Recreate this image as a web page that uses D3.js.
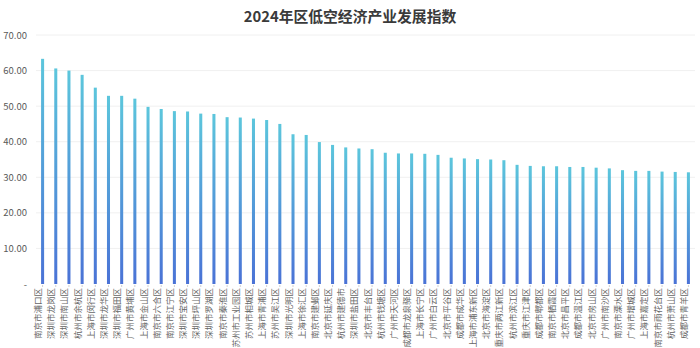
<!DOCTYPE html>
<html><head><meta charset="utf-8">
<script src="https://cdn.jsdelivr.net/npm/d3@7"></script>
<style>body{margin:0;background:#fff;}svg{display:block;font-family:"Noto Sans CJK SC","Noto Sans",sans-serif;}</style>
</head><body>
<svg id="c" width="700" height="348"></svg>
<script>
const categories = ["南京市浦口区","深圳市龙岗区","深圳市南山区","杭州市余杭区","上海市闵行区","深圳市龙华区","深圳市福田区","广州市黄埔区","上海市金山区","南京市六合区","南京市江宁区","深圳市宝安区","深圳市坪山区","深圳市罗湖区","南京市秦淮区","苏州市工业园区","苏州市相城区","上海市青浦区","苏州市吴江区","深圳市光明区","上海市徐汇区","南京市建邺区","北京市延庆区","杭州市建德市","深圳市盐田区","北京市丰台区","杭州市钱塘区","广州市天河区","成都市龙泉驿区","上海市长宁区","广州市白云区","北京市平谷区","成都市成华区","上海市浦东新区","北京市海淀区","重庆市两江新区","杭州市滨江区","重庆市江津区","成都市郫都区","南京市栖霞区","北京市昌平区","成都市温江区","北京市房山区","广州市南沙区","南京市溧水区","广州市增城区","上海市嘉定区","南京市雨花台区","杭州市萧山区","成都市青羊区"];
const values = [63.3,60.6,60.0,58.8,55.2,52.9,52.9,52.1,49.8,49.2,48.6,48.5,47.9,47.8,46.9,46.8,46.5,46.1,45.0,42.1,41.9,39.9,39.1,38.4,38.1,37.9,36.9,36.7,36.7,36.6,36.3,35.5,35.3,35.1,35.0,34.8,33.5,33.2,33.1,33.1,32.9,32.9,32.7,32.5,32.0,31.8,31.8,31.6,31.5,31.4];
const yTicks = [0,10,20,30,40,50,60,70];
const title = "2024年区低空经济产业发展指数";

const svg = d3.select("#c");
const x = d3.scaleBand().domain(categories).range([36, 695]).paddingInner(0.77).paddingOuter(0.385);
const y = d3.scaleLinear().domain([0,70]).range([284, 35]);

const defs = svg.append("defs");
const g = defs.append("linearGradient").attr("id","gr").attr("x1",0).attr("y1",0).attr("x2",0).attr("y2",1);
g.append("stop").attr("offset","0%").attr("stop-color","#5cc6dc");
g.append("stop").attr("offset","100%").attr("stop-color","#4a72d6");

svg.append("text").attr("x",350).attr("y",22).attr("text-anchor","middle")
  .attr("font-size",14.8).attr("font-weight","bold").attr("fill","#3a3a3a").text(title);

// grid
svg.append("g").selectAll("line").data(yTicks.slice(1)).join("line")
  .attr("x1",36).attr("x2",695).attr("y1",d=>y(d)).attr("y2",d=>y(d))
  .attr("stroke","#f0f0f0").attr("stroke-width",1);

// y labels
svg.append("g").selectAll("text").data(yTicks).join("text")
  .attr("x",27).attr("y",d=>y(d)+3.5).attr("text-anchor","end")
  .attr("font-size",9.5).attr("fill","#595959")
  .text(d=>d===0?"-":d.toFixed(2));

// bars
svg.append("g").selectAll("rect").data(values).join("rect")
  .attr("x",(d,i)=>x(categories[i])).attr("width",x.bandwidth())
  .attr("y",d=>y(d)).attr("height",d=>y(0)-y(d))
  .attr("fill","url(#gr)");

// baseline ticks
svg.append("g").selectAll("line").data(categories).join("line")
  .attr("x1",d=>x(d)+x.bandwidth()/2).attr("x2",d=>x(d)+x.bandwidth()/2)
  .attr("y1",285).attr("y2",287).attr("stroke","#d0d0d0");

// x labels rotated -90, ending just below the axis
svg.append("g").selectAll("text").data(categories).join("text")
  .attr("transform",d=>`translate(${x(d)+x.bandwidth()/2-1.5},288) rotate(-90)`)
  .attr("text-anchor","end")
  .attr("font-size",8.5).attr("fill","#666")
  .text(d=>d);
</script>
</body></html>
